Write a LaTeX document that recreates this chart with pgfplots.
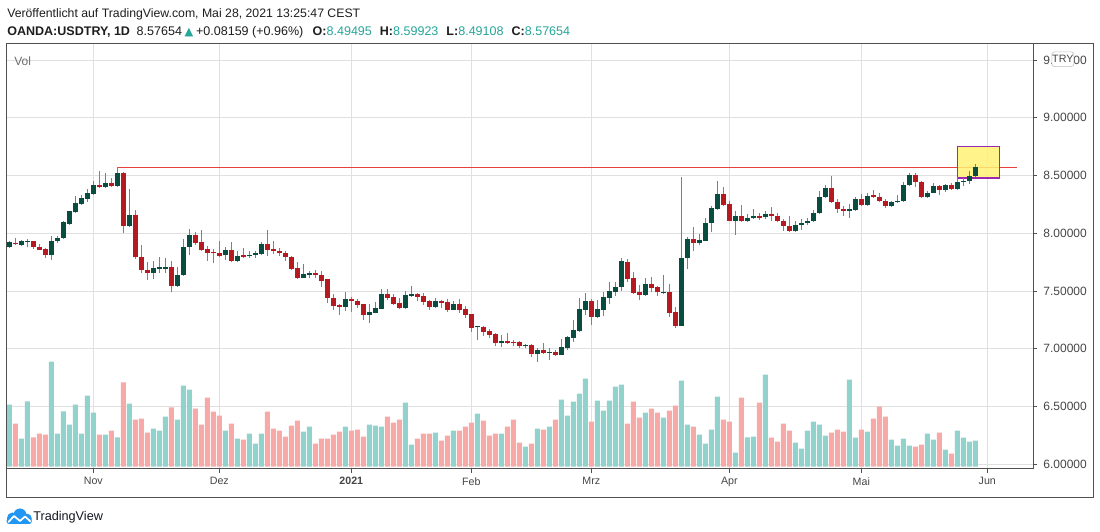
\documentclass[border=0pt]{standalone}
\usepackage{pgfplots}
\pgfplotsset{compat=1.18}
\usepackage{pgfplotstable}
\usepackage{fontspec}
\setmainfont{Liberation Sans}
\newfontfamily\dejavu{DejaVu Sans}
\definecolor{upbody}{RGB}{9,77,65}
\definecolor{upwick}{RGB}{38,166,154}
\definecolor{dnbody}{RGB}{180,26,32}
\definecolor{dnwick}{RGB}{239,83,80}
\definecolor{volup}{RGB}{146,210,204}
\definecolor{voldn}{RGB}{247,169,167}
\definecolor{gridc}{RGB}{224,224,224}
\definecolor{framec}{RGB}{80,80,80}
\definecolor{labelc}{RGB}{70,70,70}
\definecolor{hline}{RGB}{232,65,60}
\definecolor{boxfill}{RGB}{255,241,118}
\definecolor{boxline}{RGB}{156,39,176}
\definecolor{tvteal}{RGB}{38,166,154}
\definecolor{tvblue}{RGB}{33,150,243}
\definecolor{textc}{RGB}{30,30,30}
\definecolor{volc}{RGB}{110,110,110}

\pgfplotstableread{
i O H L C V
0 7.878 7.930 7.869 7.921 186
2 7.901 7.944 7.892 7.936 84
3 7.927 7.953 7.878 7.936 196
7 7.808 7.979 7.771 7.936 315
8 7.930 7.976 7.918 7.959 99
9 7.956 8.104 7.953 8.095 166
10 8.083 8.196 8.075 8.190 126
11 8.182 8.326 8.176 8.260 186
12 8.251 8.329 8.245 8.306 99
13 8.300 8.387 8.271 8.347 213
14 8.338 8.451 8.332 8.422 162
16 8.399 8.526 8.393 8.436 96
18 8.413 8.578 8.404 8.526 88
20 8.060 8.384 8.051 8.161 189
24 7.652 7.756 7.600 7.698 114
25 7.695 7.794 7.652 7.704 108
26 7.695 7.788 7.655 7.710 150
28 7.548 7.704 7.531 7.638 141
29 7.635 7.953 7.633 7.884 243
30 7.881 8.040 7.808 7.988 231
36 7.808 7.884 7.771 7.852 108
38 7.762 7.843 7.748 7.805 84
40 7.800 7.849 7.785 7.814 99
41 7.811 7.849 7.785 7.826 69
42 7.817 7.927 7.814 7.907 99
49 7.617 7.733 7.612 7.646 105
50 7.643 7.675 7.612 7.655 120
56 7.366 7.493 7.328 7.432 120
60 7.296 7.386 7.227 7.319 126
61 7.313 7.403 7.308 7.354 123
62 7.348 7.519 7.346 7.473 120
66 7.354 7.499 7.348 7.464 192
67 7.461 7.542 7.449 7.476 66
71 7.366 7.441 7.354 7.412 102
74 7.339 7.415 7.334 7.389 108
78 7.186 7.197 7.079 7.195 159
82 7.047 7.122 7.018 7.067 99
86 7.021 7.041 7.004 7.033 60
88 6.952 7.010 6.888 6.989 114
90 6.966 7.004 6.905 6.974 120
92 6.949 7.085 6.946 7.015 201
93 7.010 7.114 6.992 7.102 153
94 7.096 7.250 7.062 7.163 195
95 7.154 7.444 7.149 7.345 219
96 7.339 7.484 7.296 7.415 264
98 7.276 7.421 7.264 7.345 198
99 7.339 7.490 7.284 7.449 168
100 7.444 7.580 7.392 7.502 198
101 7.496 7.580 7.461 7.536 240
102 7.531 7.788 7.504 7.756 246
106 7.470 7.614 7.461 7.562 162
109 7.484 7.640 7.478 7.493 147
112 7.201 8.486 7.199 7.785 258
113 7.782 7.970 7.693 7.953 126
115 7.918 7.994 7.895 7.944 96
116 7.936 8.132 7.934 8.092 69
117 8.086 8.234 8.008 8.216 111
118 8.208 8.457 8.206 8.344 210
121 8.109 8.190 7.985 8.153 42
123 8.104 8.170 8.101 8.135 88
124 8.130 8.211 8.124 8.153 90
126 8.138 8.193 8.121 8.170 276
131 8.017 8.106 8.011 8.072 72
132 8.069 8.121 8.025 8.092 54
133 8.086 8.135 8.072 8.109 108
134 8.104 8.202 8.101 8.179 135
135 8.173 8.370 8.171 8.318 126
136 8.312 8.416 8.303 8.393 93
140 8.190 8.254 8.132 8.213 261
141 8.205 8.318 8.190 8.300 87
143 8.245 8.352 8.240 8.326 105
147 8.234 8.283 8.225 8.271 81
148 8.271 8.329 8.266 8.283 63
149 8.277 8.448 8.275 8.422 84
150 8.416 8.520 8.413 8.509 63
153 8.312 8.370 8.303 8.352 99
154 8.347 8.439 8.345 8.413 81
156 8.373 8.428 8.355 8.419 51
158 8.381 8.486 8.373 8.445 108
159 8.445 8.480 8.407 8.457 87
160 8.451 8.543 8.428 8.500 75
161 8.49495 8.59923 8.49108 8.57654 78
}\upc

\pgfplotstableread{
i O H L C V
1 7.918 7.959 7.901 7.907 129
4 7.933 7.936 7.860 7.878 88
5 7.884 7.907 7.855 7.858 99
6 7.866 7.872 7.782 7.811 96
15 8.422 8.543 8.393 8.399 96
17 8.436 8.480 8.404 8.413 108
19 8.526 8.530 7.999 8.060 253
21 8.161 8.202 7.774 7.791 141
22 7.794 7.901 7.652 7.681 144
23 7.684 7.753 7.594 7.652 102
27 7.710 7.756 7.496 7.548 178
31 7.988 8.008 7.901 7.918 174
32 7.927 8.028 7.843 7.858 126
33 7.866 7.892 7.762 7.826 207
34 7.834 7.866 7.739 7.826 165
35 7.831 7.930 7.791 7.805 153
37 7.852 7.921 7.748 7.762 129
39 7.808 7.872 7.785 7.797 81
43 7.907 8.031 7.805 7.855 165
44 7.860 7.936 7.817 7.843 114
45 7.849 7.869 7.805 7.826 108
46 7.831 7.843 7.759 7.791 90
47 7.797 7.805 7.684 7.695 123
48 7.701 7.753 7.600 7.617 138
51 7.658 7.678 7.612 7.635 69
52 7.640 7.675 7.539 7.583 84
53 7.600 7.602 7.400 7.438 84
54 7.444 7.473 7.339 7.374 96
55 7.383 7.392 7.293 7.366 105
57 7.435 7.447 7.322 7.412 108
58 7.415 7.429 7.354 7.383 111
59 7.386 7.388 7.253 7.296 90
63 7.473 7.522 7.421 7.444 150
64 7.449 7.478 7.380 7.392 132
65 7.397 7.444 7.342 7.354 141
68 7.476 7.484 7.412 7.452 84
69 7.458 7.481 7.380 7.409 99
70 7.415 7.426 7.339 7.366 99
72 7.415 7.426 7.357 7.400 78
73 7.403 7.432 7.322 7.339 93
75 7.389 7.432 7.311 7.339 108
76 7.345 7.368 7.270 7.296 120
77 7.302 7.304 7.148 7.183 132
79 7.192 7.201 7.114 7.149 138
80 7.154 7.172 7.091 7.122 93
81 7.128 7.134 7.021 7.047 99
83 7.067 7.137 7.038 7.053 120
84 7.056 7.079 7.021 7.047 141
85 7.056 7.065 7.004 7.021 72
87 7.033 7.039 6.929 6.952 69
89 6.989 7.050 6.952 6.966 111
91 6.972 6.992 6.940 6.949 141
97 7.415 7.435 7.206 7.279 135
103 7.753 7.777 7.577 7.606 129
104 7.614 7.667 7.478 7.487 195
105 7.493 7.551 7.426 7.470 147
107 7.562 7.623 7.493 7.528 174
108 7.536 7.545 7.461 7.490 162
110 7.493 7.562 7.276 7.313 168
111 7.319 7.360 7.183 7.201 183
114 7.953 8.051 7.843 7.918 120
119 8.344 8.399 8.237 8.245 141
120 8.251 8.277 8.107 8.109 135
122 8.153 8.248 8.098 8.104 207
125 8.150 8.179 8.118 8.132 192
127 8.170 8.231 8.106 8.147 87
128 8.150 8.179 8.098 8.104 75
129 8.106 8.127 8.022 8.060 129
130 8.066 8.153 8.008 8.017 108
137 8.393 8.494 8.266 8.268 102
138 8.274 8.297 8.176 8.208 111
139 8.213 8.240 8.153 8.190 105
142 8.297 8.341 8.240 8.245 111
144 8.329 8.373 8.306 8.312 144
145 8.318 8.350 8.271 8.277 180
146 8.280 8.300 8.216 8.234 150
151 8.509 8.520 8.404 8.442 60
152 8.448 8.457 8.303 8.312 66
155 8.413 8.422 8.335 8.373 102
157 8.422 8.436 8.376 8.381 39
}\dnc

\begin{document}
\begin{tikzpicture}
\fill[white] (0,0) rectangle (825pt,399pt);
\useasboundingbox (0,0) rectangle (825pt,399pt);

% price axis with candles
\begin{axis}[
  at={(4.5pt,47.4pt)}, anchor=south west, scale only axis,
  width=770.55pt, height=318.6pt,
  xmin=-0.55, xmax=170.68, ymin=5.961, ymax=9.639,
  axis line style={draw=framec, line width=0.75pt},
  xtick={14,35,57,77,97,120,142,163},
  xticklabels={Nov,Dez,\textbf{2021},Feb,Mrz,Apr,Mai,Jun},
  ytick={6,6.5,7,7.5,8,8.5,9,9.5},
  xtick pos=left, ytick pos=right, yticklabel pos=right,
  tick align=outside, major tick length=3pt,
  tick style={draw=framec, line width=0.75pt},
  grid=major, major grid style={draw=gridc, line width=0.75pt},
  scaled y ticks=false,
  /pgf/number format/assume math mode=true,
  yticklabel style={/pgf/number format/fixed, /pgf/number format/fixed zerofill,
    /pgf/number format/precision=5, /pgf/number format/assume math mode=true,
    font=\fontsize{9}{10}\selectfont, text=labelc, xshift=1pt},
  xticklabel style={font=\fontsize{8}{9}\selectfont, text=labelc},
]
\addplot[hline, line width=0.75pt, forget plot] coordinates {(18,8.572) (168,8.572)};
\addplot[fill=boxfill, fill opacity=0.85, draw=boxline, line width=1.1pt, forget plot]
  coordinates {(158,8.479) (165,8.479) (165,8.753) (158,8.753)} -- cycle;
% up wicks and bodies
\addplot[draw=none, mark=none, forget plot, error bars/.cd, y dir=plus, y explicit,
  error mark=none, error bar style={draw=upwick, line width=0.75pt, solid}]
  table[x=i, y=L, y error plus expr=\thisrow{H}-\thisrow{L}]{\upc};
\addplot[draw=none, mark=none, forget plot, error bars/.cd, y dir=plus, y explicit,
  error mark=none, error bar style={draw=upbody, line width=3.5pt, solid}]
  table[x=i, y=O, y error plus expr=\thisrow{C}-\thisrow{O}]{\upc};
% down wicks and bodies
\addplot[draw=none, mark=none, forget plot, error bars/.cd, y dir=plus, y explicit,
  error mark=none, error bar style={draw=dnwick, line width=0.75pt, solid}]
  table[x=i, y=L, y error plus expr=\thisrow{H}-\thisrow{L}]{\dnc};
\addplot[draw=none, mark=none, forget plot, error bars/.cd, y dir=plus, y explicit,
  error mark=none, error bar style={draw=dnbody, line width=3.5pt, solid}]
  table[x=i, y=C, y error plus expr=\thisrow{O}-\thisrow{C}]{\dnc};
\end{axis}

% volume axis (overlay)
\begin{axis}[
  at={(4.5pt,47.4pt)}, anchor=south west, scale only axis,
  width=770.55pt, height=318.6pt,
  xmin=-0.55, xmax=170.68, ymin=-6.3, ymax=1268,
  hide axis,
]
\addplot[ybar, bar width=0.83, bar shift=0pt, fill=volup, draw=none] table[x=i, y=V]{\upc};
\addplot[ybar, bar width=0.83, bar shift=0pt, fill=voldn, draw=none] table[x=i, y=V]{\dnc};
\end{axis}

\begin{scope}[x=0.75pt,y=0.75pt]
  \draw[framec, line width=0.75pt] (6,488) rectangle (1093,34);
  \node[draw={rgb,255:red,190;green,190;blue,190}, fill=white, rounded corners=2pt, inner sep=0pt,
    minimum width=16.5pt, minimum height=11pt, font=\fontsize{8}{9}\selectfont, text=labelc]
    at (1062.8,472.8) {TRY};
  \node[anchor=west, inner sep=0pt, font=\fontsize{9}{10}\selectfont, text=volc] at (14,471) {Vol};
  \node[anchor=base west, inner sep=0pt, font=\fontsize{9.2}{11}\selectfont, text=textc]
    at (7,514) {Veröffentlicht auf TradingView.com, Mai 28, 2021 13:25:47 CEST};
  \node[anchor=base west, inner sep=0pt, font=\fontsize{9.4}{11}\selectfont, text=textc]
    at (7,496) {\textbf{OANDA:USDTRY, 1D}\hspace{5pt}8.57654\hspace{2pt}{\dejavu\fontsize{8.5}{9}\selectfont\color{tvteal}▲}\hspace{2pt}+0.08159 (+0.96\%)\hspace{7pt}\textbf{O:}\textcolor{tvteal}{8.49495}\hspace{6pt}\textbf{H:}\textcolor{tvteal}{8.59923}\hspace{6pt}\textbf{L:}\textcolor{tvteal}{8.49108}\hspace{6pt}\textbf{C:}\textcolor{tvteal}{8.57654}};
  % logo
  \fill[tvblue] (12.5,14) circle (5.5);
  \fill[tvblue] (20,17) circle (6.5);
  \fill[tvblue] (27,13.5) circle (4.8);
  \fill[tvblue, rounded corners=2] (6.5,8) rectangle (31.8,14);
  \draw[white, line width=1.3pt, line join=round, line cap=round] (8.5,10) -- (14,16) -- (20,11) -- (25,15.5) -- (30.5,10.5);
  \node[anchor=west, inner sep=0pt, font=\fontsize{9.5}{11}\selectfont, text={rgb,255:red,19;green,23;blue,34}] at (33,15) {TradingView};
\end{scope}
\end{tikzpicture}
\end{document}
